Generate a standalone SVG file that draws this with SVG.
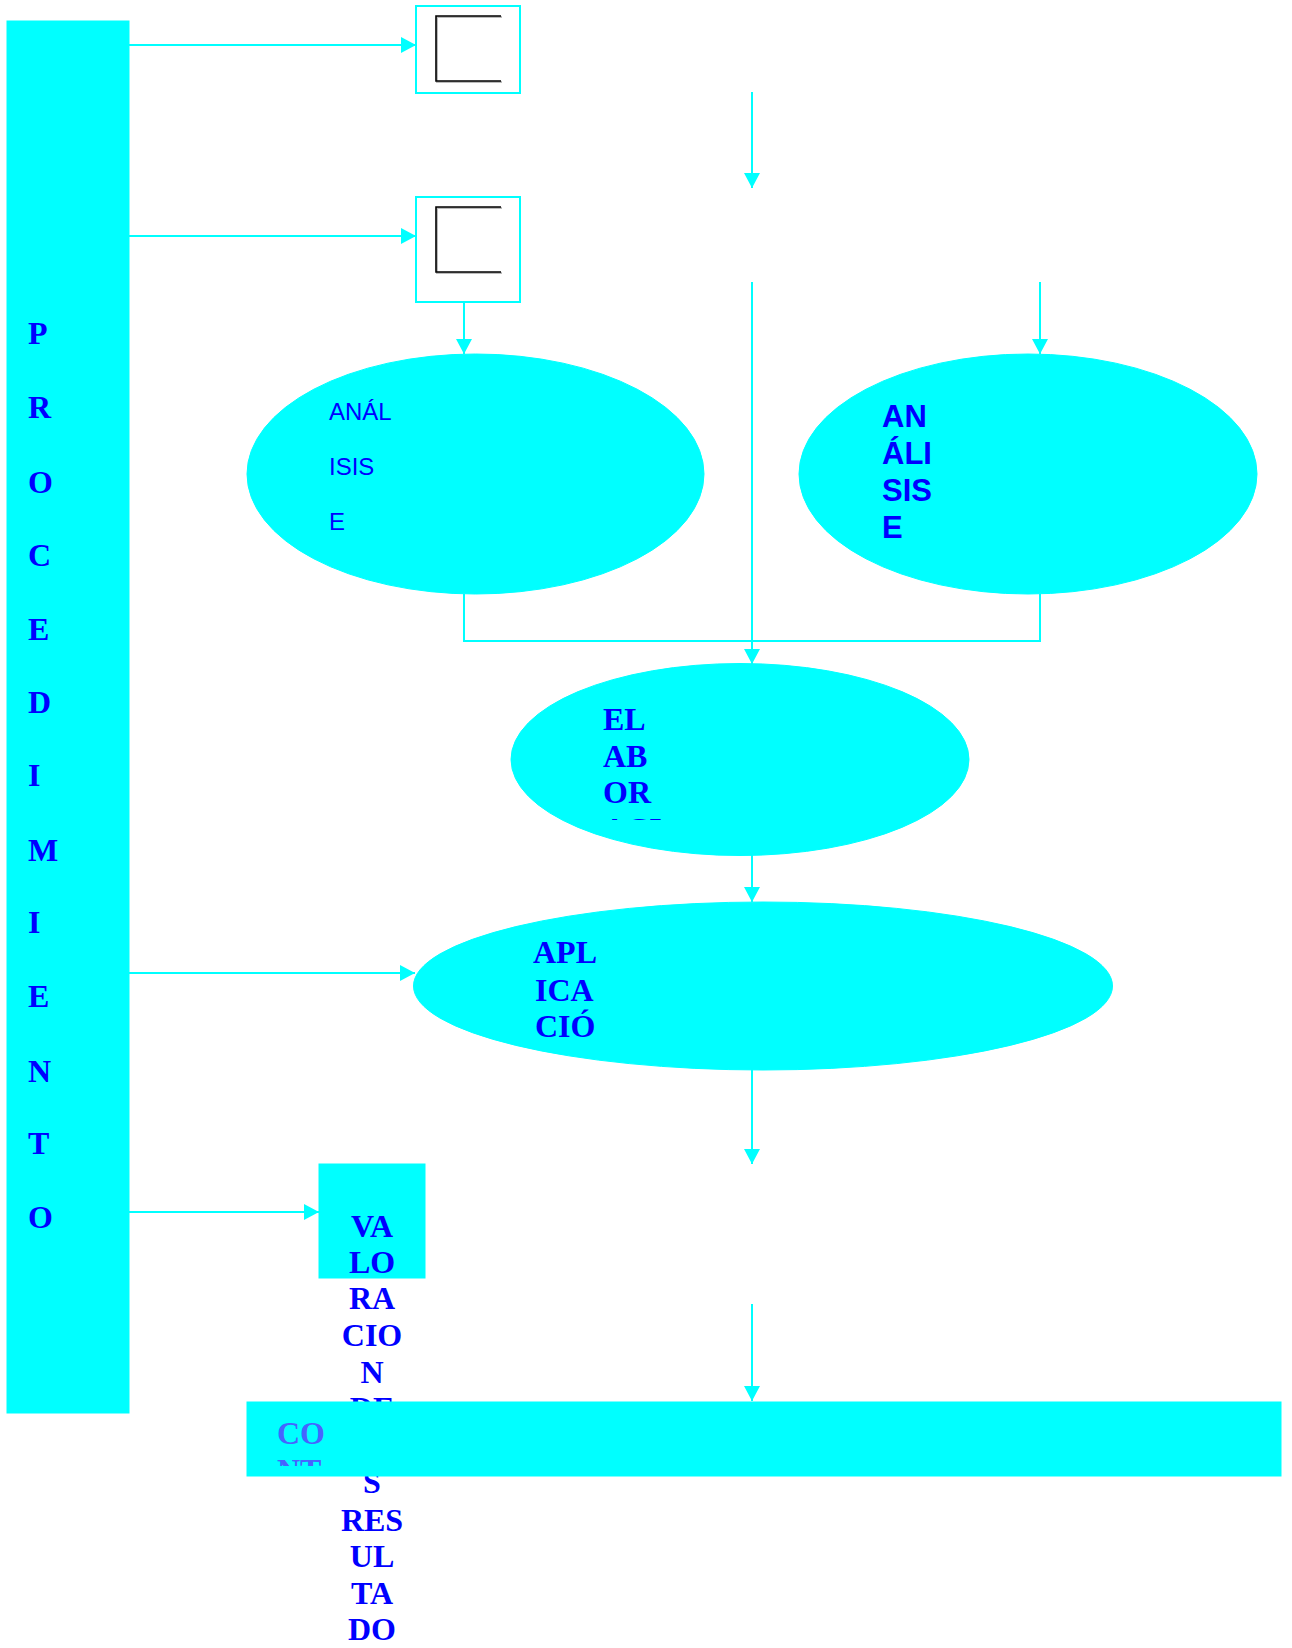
<svg xmlns="http://www.w3.org/2000/svg" width="1292" height="1648" viewBox="0 0 1292 1648">
<style>
.shape{fill:#00FFFF;stroke:#00FFFF;stroke-width:1}
.box{fill:#FFFFFF;stroke:#00FFFF;stroke-width:2}
.conn{fill:none;stroke:#00FFFF;stroke-width:2}
.tnr{font-family:"Liberation Serif","Times New Roman",serif;font-weight:bold;font-size:32px;fill:#0000FF}
.ar{font-family:"Liberation Sans",Arial,sans-serif;fill:#0000FF}
</style>
<defs>
<marker id="arr" markerUnits="userSpaceOnUse" markerWidth="15" markerHeight="16" refX="15" refY="8" orient="auto">
<path d="M0,0 L15,8 L0,16 z" fill="#00FFFF"/>
</marker>
<clipPath id="clipE3"><rect x="500" y="660" width="480" height="160"/></clipPath>
<clipPath id="clipCO"><rect x="247" y="1402" width="200" height="64"/></clipPath>
</defs>
<rect width="1292" height="1648" fill="#FFFFFF"/>

<g id="procedimiento">
<rect class="shape" x="7" y="21" width="122" height="1392"/>
<g class="tnr">
<text x="28" y="344">P</text>
<text x="28" y="418">R</text>
<text x="28" y="493">O</text>
<text x="28" y="566">C</text>
<text x="28" y="640">E</text>
<text x="28" y="713">D</text>
<text x="28" y="786">I</text>
<text x="28" y="861">M</text>
<text x="28" y="933">I</text>
<text x="28" y="1007">E</text>
<text x="28" y="1082">N</text>
<text x="28" y="1154">T</text>
<text x="28" y="1228">O</text>
</g>
</g>

<g id="connectors">
<path class="conn" d="M129,45 H416" marker-end="url(#arr)"/>
<path class="conn" d="M129,236 H416" marker-end="url(#arr)"/>
<path class="conn" d="M752,92 V188" marker-end="url(#arr)"/>
<path class="conn" d="M464,283 V354" marker-end="url(#arr)"/>
<path class="conn" d="M752,282 V664" marker-end="url(#arr)"/>
<path class="conn" d="M1040,282 V354" marker-end="url(#arr)"/>
<path class="conn" d="M464,594 V641 H1040 V594"/>
<path class="conn" d="M752,855 V902" marker-end="url(#arr)"/>
<path class="conn" d="M129,973 H415" marker-end="url(#arr)"/>
<path class="conn" d="M752,1069 V1164" marker-end="url(#arr)"/>
<path class="conn" d="M752,1304 V1401" marker-end="url(#arr)"/>
<path class="conn" d="M129,1212 H319" marker-end="url(#arr)"/>
</g>

<g id="box1">
<rect class="box" x="416" y="6" width="104" height="87"/>
<path d="M502,17 H437 V82 H502" fill="none" stroke="#BBBBBB" stroke-width="2"/>
<path d="M501,16 H436 V81 H501" fill="none" stroke="#000000" stroke-width="1.6"/>
</g>

<g id="box2">
<rect class="box" x="416" y="197" width="104" height="105"/>
<path d="M502,208 H437 V273 H502" fill="none" stroke="#BBBBBB" stroke-width="2"/>
<path d="M501,207 H436 V272 H501" fill="none" stroke="#000000" stroke-width="1.6"/>
</g>

<g id="analisis1">
<ellipse class="shape" cx="475.5" cy="474" rx="228.5" ry="120"/>
<g class="ar" font-size="24">
<text x="329" y="420">ANÁL</text>
<text x="329" y="475">ISIS</text>
<text x="329" y="530">E</text>
</g>
</g>

<g id="analisis2">
<ellipse class="shape" cx="1028" cy="474" rx="229" ry="120"/>
<g class="ar" font-size="31" font-weight="bold">
<text x="882" y="427">AN</text>
<text x="882" y="464">ÁLI</text>
<text x="882" y="501">SIS</text>
<text x="882" y="538">E</text>
</g>
</g>

<g id="elaboracion">
<ellipse class="shape" cx="740" cy="759.5" rx="229" ry="96"/>
<g class="tnr" clip-path="url(#clipE3)">
<text x="603" y="730">EL</text>
<text x="603" y="767">AB</text>
<text x="603" y="803">OR</text>
<text x="603" y="840">ACI</text>
</g>
</g>

<g id="aplicacion">
<ellipse class="shape" cx="763" cy="986" rx="349.5" ry="84"/>
<g class="tnr">
<text x="533" y="963">APL</text>
<text x="535" y="1001">ICA</text>
<text x="535" y="1037">CIÓ</text>
</g>
</g>

<g id="valoracion">
<rect class="shape" x="319" y="1164" width="106" height="114"/>
<g class="tnr" text-anchor="middle">
<text x="372" y="1237">VA</text>
<text x="372" y="1273">LO</text>
<text x="372" y="1309">RA</text>
<text x="372" y="1346">CIO</text>
<text x="372" y="1383">N</text>
<text x="372" y="1419">DE</text>
<text x="372" y="1493">S</text>
<text x="372" y="1531">RES</text>
<text x="372" y="1567">UL</text>
<text x="372" y="1604">TA</text>
<text x="372" y="1640">DO</text>
</g>
</g>

<g id="conclusiones">
<rect class="shape" x="247" y="1402" width="1034" height="74"/>
<g class="tnr" clip-path="url(#clipCO)" style="fill:#4664FF">
<text x="277" y="1444">CO</text>
<text x="277" y="1481">NT</text>
</g>
</g>
</svg>
